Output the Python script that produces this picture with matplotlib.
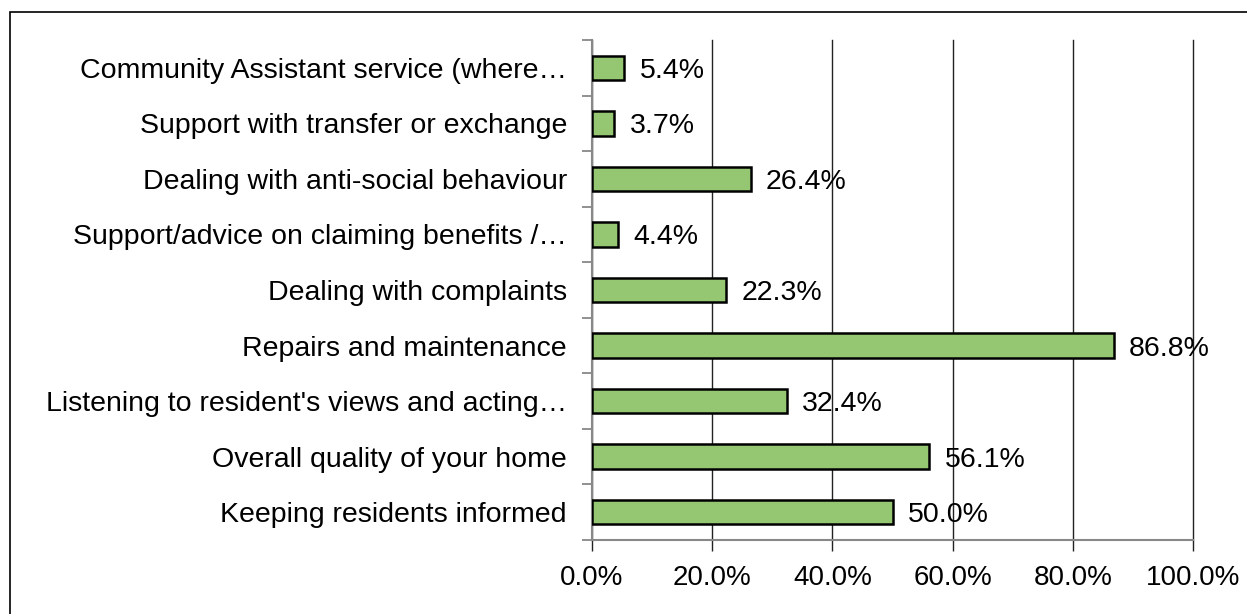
##########################
# Service ratings - bars #
##########################
import numpy as np
import matplotlib.pyplot as plt
from matplotlib.patches import Rectangle
from matplotlib.ticker import FixedLocator, PercentFormatter

plt.rcParams['font.family'] = ['Liberation Sans', 'DejaVu Sans']

# data, top to bottom as in the chart
categories = ['Community Assistant service (where…',
              'Support with transfer or exchange',
              'Dealing with anti-social behaviour',
              'Support/advice on claiming benefits /…',
              'Dealing with complaints',
              'Repairs and maintenance',
              "Listening to resident's views and acting…",
              'Overall quality of your home',
              'Keeping residents informed']
values = [5.4, 3.7, 26.4, 4.4, 22.3, 86.8, 32.4, 56.1, 50.0]
xticks = [0, 20, 40, 60, 80, 100]

# reversed so the first category sits on top
cats = categories[::-1]
vals = values[::-1]
ypos = np.arange(len(cats))

fig = plt.figure(figsize=(12.47, 6.14), dpi=100)
ax = fig.add_axes([592 / 1247, 74 / 614, 601 / 1247, 500 / 614])

ax.barh(ypos, vals, height=0.44, color='#95c773', edgecolor='black',
        linewidth=1.8, zorder=3)

# value labels
for y, v in zip(ypos, vals):
    ax.annotate('%.1f%%' % v, (v, y), xytext=(11, 0),
                textcoords='offset points', va='center_baseline',
                ha='left', fontsize=20.5, zorder=4)

ax.set_xlim(0, 100)
ax.set_ylim(-0.5, len(cats) - 0.5)
ax.set_xticks(xticks)
ax.xaxis.set_major_formatter(PercentFormatter(decimals=1))
ax.grid(axis='x', color='#222222', linewidth=1, zorder=0)
for gl in ax.get_xgridlines():
    gl.set_clip_on(False)
ax.set_yticks(ypos)
ax.set_yticklabels(cats)
ax.yaxis.set_minor_locator(FixedLocator(np.arange(-0.5, len(cats), 1)))

ax.tick_params(axis='y', which='major', length=0, pad=18, labelsize=20.5)
ax.tick_params(axis='y', which='minor', length=7, color='#888888', width=1.3)
ax.tick_params(axis='x', length=8, color='#222222', width=1, pad=10,
               labelsize=20)

for s in ['top', 'right']:
    ax.spines[s].set_visible(False)
for s in ['left', 'bottom']:
    ax.spines[s].set_color('#888888')
    ax.spines[s].set_linewidth(1.5)

# outer chart border (runs off right and bottom edges)
fig.patches.append(Rectangle((10 / 1247, -0.1), 1.2, 1.1 - 12 / 614,
                             transform=fig.transFigure, fill=False,
                             edgecolor='black', linewidth=1.2))

plt.savefig('out.png', dpi=100)
